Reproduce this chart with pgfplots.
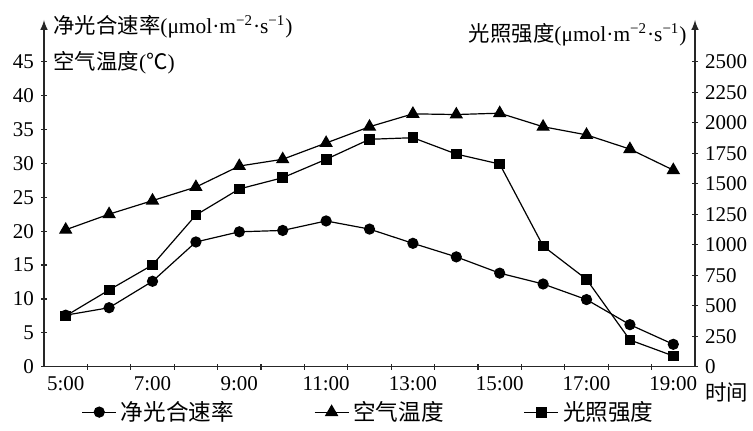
\documentclass[border=0pt]{standalone}
\usepackage{fontspec}
\setmainfont{Liberation Serif}
\newfontfamily\cjk{Noto Sans CJK SC}
\usepackage{pgfplots}
\pgfplotsset{compat=1.18}

\pgfplotstableread{
h net temp light
5  7.6  20.2 416
6  8.7  22.5 629
7  12.6 24.5 834
8  18.4 26.5 1243
9  19.9 29.6 1457
10 20.1 30.6 1549
11 21.5 33.0 1700
12 20.3 35.4 1864
13 18.2 37.3 1877
14 16.2 37.2 1743
15 13.8 37.4 1661
16 12.2 35.4 989
17 9.9  34.2 716
18 6.2  32.1 219
19 3.3  29.0 88
}\data

\begin{document}
\begin{tikzpicture}[font=\fontsize{10.5}{12}\selectfont]
\pgfplotsset{
  common/.style={
    width=325.5pt, height=173.35pt, scale only axis,
    xmin=4.5, xmax=19.5, ymin=0, clip=false,
    /pgf/number format/assume math mode=true,
    /pgf/number format/1000 sep={},
    tick align=inside,
    axis line style={line width=0.7pt, black!85},
    every tick/.style={line width=0.6pt, black!85},
    major tick length=3pt, minor tick length=3pt,
    every axis plot/.append style={black, line width=0.6pt},
  }
}
\begin{axis}[common, name=ax,
  axis x line=bottom, axis y line=left,
  x axis line style={-},
  y axis line style={-latex},
  ymax=51.15, ytick={0,5,...,45},
  xtick={5,7,...,19},
  xticklabels={5:00,7:00,9:00,11:00,13:00,15:00,17:00,19:00},
  major x tick style={draw=none},
  minor xtick={5.5,6.5,...,18.5},
  legend style={at={(0.5,-0.131)}, anchor=center, draw=none, fill=none,
    legend columns=3, font=\fontsize{11.3}{13}\selectfont,
    /tikz/every even column/.append style={column sep=38pt}},
]
\addplot[mark=*, mark size=2.5pt] table[x=h, y=net] {\data};
\addlegendentry{{\cjk 净光合速率}}
\addplot[mark=triangle*, mark size=3.3pt] table[x=h, y=temp] {\data};
\addlegendentry{{\cjk 空气温度}}
\addlegendimage{black, line width=0.6pt, mark=square*, mark size=2.4pt}
\addlegendentry{{\cjk 光照强度}}
\end{axis}
\begin{axis}[common, at={(ax.south west)}, anchor=south west,
  axis x line=none, axis y line=right,
  y axis line style={-latex},
  ymax=2842, ytick={0,250,...,2500},
]
\addplot[mark=square*, mark size=2.4pt] table[x=h, y=light] {\data};
\end{axis}

\node[anchor=west, inner sep=0pt, font=\fontsize{10.7}{12}\selectfont] at ([xshift=4.5pt, yshift=169.85pt]ax.south west)
  {{\cjk 净光合速率}(μmol·m\textsuperscript{−2}·s\textsuperscript{−1})};
\node[anchor=west, inner sep=0pt, font=\fontsize{10.7}{12}\selectfont] at ([xshift=4.5pt, yshift=151.85pt]ax.south west)
  {{\cjk 空气温度}({\cjk ℃})};
\node[anchor=east, inner sep=0pt, font=\fontsize{10.7}{12}\selectfont] at ([xshift=321.5pt, yshift=165.85pt]ax.south west)
  {{\cjk 光照强度}(μmol·m\textsuperscript{−2}·s\textsuperscript{−1})};
\node[anchor=west, inner sep=0pt, font=\fontsize{10.7}{12}\selectfont] at ([xshift=330.5pt, yshift=-12.65pt]ax.south west)
  {{\cjk 时间}};

\pgfresetboundingbox
\path ([xshift=-22pt, yshift=-32.15pt]ax.south west) rectangle ([xshift=354.5pt, yshift=183.35pt]ax.south west);
\end{tikzpicture}
\end{document}
